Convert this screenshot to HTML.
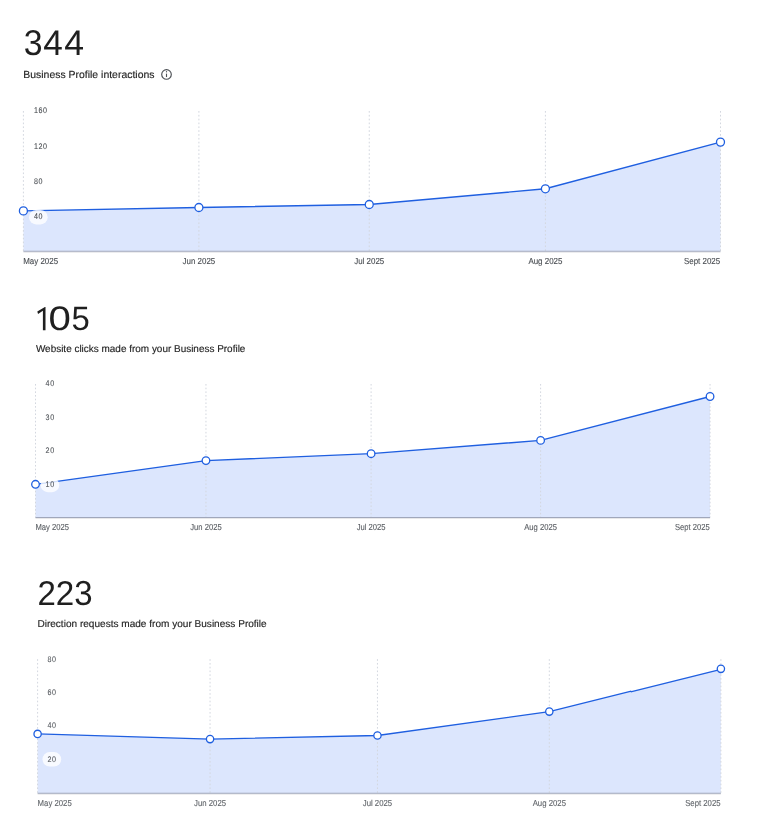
<!DOCTYPE html>
<html><head><meta charset="utf-8"><style>
html,body{margin:0;padding:0;background:#fff;}
body{width:769px;height:835px;overflow:hidden;position:relative;}
svg{position:absolute;left:0;top:0;will-change:transform;}
text{font-family:"Liberation Sans",sans-serif;text-rendering:geometricPrecision;}
</style></head><body>
<svg width="769" height="835" viewBox="0 0 769 835">

<text transform="translate(23.75,55.34) scale(0.9530,1.0117)" font-size="35.5" fill="#1f1f1f">3</text>
<text transform="translate(43.22,55.00) scale(0.9915,1.0000)" font-size="35.5" fill="#1f1f1f">4</text>
<text transform="translate(64.21,55.00) scale(1.0028,1.0000)" font-size="35.5" fill="#1f1f1f">4</text>
<text x="23.3" y="78.0" font-size="10.35" fill="#1f1f1f" stroke="#1f1f1f" stroke-width="0.15" textLength="131.2" lengthAdjust="spacingAndGlyphs">Business Profile interactions</text>
<circle cx="166.5" cy="74.45" r="4.8" fill="none" stroke="#4d5156" stroke-width="1.15"/>
<rect x="165.95" y="73.65" width="1.1" height="3.4" fill="#4d5156"/>
<rect x="165.95" y="71.15" width="1.1" height="1.2" fill="#4d5156"/>
<polygon points="23.4,251.3 23.4,210.9 198.9,207.5 369.25,204.5 545.4,188.8 720.5,142.1 720.5,251.3" fill="#dce6fd"/>
<line x1="23.4" y1="111" x2="23.4" y2="251.3" stroke="#d3d7df" stroke-width="1" stroke-dasharray="1.7,2.14"/>
<line x1="198.9" y1="111" x2="198.9" y2="251.3" stroke="#d3d7df" stroke-width="1" stroke-dasharray="1.7,2.14"/>
<line x1="369.25" y1="111" x2="369.25" y2="251.3" stroke="#d3d7df" stroke-width="1" stroke-dasharray="1.7,2.14"/>
<line x1="545.4" y1="111" x2="545.4" y2="251.3" stroke="#d3d7df" stroke-width="1" stroke-dasharray="1.7,2.14"/>
<line x1="720.5" y1="111" x2="720.5" y2="251.3" stroke="#d3d7df" stroke-width="1" stroke-dasharray="1.7,2.14"/>
<line x1="23.4" y1="252.3" x2="720.5" y2="252.3" stroke="#e8e8ea" stroke-width="1"/>
<line x1="23.4" y1="251.3" x2="720.5" y2="251.3" stroke="#a0a7bb" stroke-width="1.1"/>
<polyline points="23.4,210.9 198.9,207.5 369.25,204.5 545.4,188.8 720.5,142.1" fill="none" stroke="#1f5fe0" stroke-width="1.45"/>
<rect x="29.000000000000004" y="103.8" width="23.049999999999997" height="14.4" rx="7.2" fill="#fff" fill-opacity="0.8"/>
<text transform="translate(33.900000000000006,113.10000000000001) scale(0.87,1)" font-size="8.2" fill="#4a4e53" stroke="#4a4e53" stroke-width="0.1" textLength="14.929" lengthAdjust="spacing">160</text>
<rect x="29.000000000000004" y="139.3" width="23.049999999999997" height="14.4" rx="7.2" fill="#fff" fill-opacity="0.8"/>
<text transform="translate(33.900000000000006,148.6) scale(0.87,1)" font-size="8.2" fill="#4a4e53" stroke="#4a4e53" stroke-width="0.1" textLength="14.929" lengthAdjust="spacing">120</text>
<rect x="29.000000000000004" y="174.60000000000002" width="18.7" height="14.4" rx="7.2" fill="#fff" fill-opacity="0.8"/>
<text transform="translate(33.900000000000006,183.9) scale(0.87,1)" font-size="8.2" fill="#4a4e53" stroke="#4a4e53" stroke-width="0.1" textLength="9.947" lengthAdjust="spacing">80</text>
<rect x="29.000000000000004" y="210.00000000000003" width="18.7" height="14.4" rx="7.2" fill="#fff" fill-opacity="0.8"/>
<text transform="translate(33.900000000000006,219.3) scale(0.87,1)" font-size="8.2" fill="#4a4e53" stroke="#4a4e53" stroke-width="0.1" textLength="9.947" lengthAdjust="spacing">40</text>
<circle cx="23.4" cy="210.9" r="4.0" fill="#fff" stroke="#1f5fe0" stroke-width="1.3"/>
<circle cx="198.9" cy="207.5" r="4.0" fill="#fff" stroke="#1f5fe0" stroke-width="1.3"/>
<circle cx="369.25" cy="204.5" r="4.0" fill="#fff" stroke="#1f5fe0" stroke-width="1.3"/>
<circle cx="545.4" cy="188.8" r="4.0" fill="#fff" stroke="#1f5fe0" stroke-width="1.3"/>
<circle cx="720.5" cy="142.1" r="4.0" fill="#fff" stroke="#1f5fe0" stroke-width="1.3"/>
<text transform="translate(23.2,264.0) scale(0.915,1)" font-size="8.7" fill="#4a4e53" stroke="#4a4e53" stroke-width="0.12" text-anchor="start">May 2025</text>
<text transform="translate(198.9,264.0) scale(0.915,1)" font-size="8.7" fill="#4a4e53" stroke="#4a4e53" stroke-width="0.12" text-anchor="middle">Jun 2025</text>
<text transform="translate(369.25,264.0) scale(0.915,1)" font-size="8.7" fill="#4a4e53" stroke="#4a4e53" stroke-width="0.12" text-anchor="middle">Jul 2025</text>
<text transform="translate(545.4,264.0) scale(0.915,1)" font-size="8.7" fill="#4a4e53" stroke="#4a4e53" stroke-width="0.12" text-anchor="middle">Aug 2025</text>
<text transform="translate(720.2,264.0) scale(0.915,1)" font-size="8.7" fill="#4a4e53" stroke="#4a4e53" stroke-width="0.12" text-anchor="end">Sept 2025</text>
<path d="M42.90,330.20 L45.50,330.20 L45.50,307.10 L44.90,307.10 L37.30,311.60 L38.05,313.90 L42.90,310.70 Z" fill="#1f1f1f"/>
<text transform="translate(48.59,330.26) scale(1.1827,1.0025)" font-size="34" fill="#1f1f1f">0</text>
<text transform="translate(71.49,330.16) scale(0.9659,0.9958)" font-size="34" fill="#1f1f1f">5</text>
<text x="35.9" y="351.7" font-size="10" fill="#1f1f1f" stroke="#1f1f1f" stroke-width="0.15" textLength="209.5" lengthAdjust="spacingAndGlyphs">Website clicks made from your Business Profile</text>
<polygon points="35.5,517.5 35.5,484.3 205.96,460.6 371.1,453.7 540.6,440.4 710.05,396.5 710.05,517.5" fill="#dce6fd"/>
<line x1="35.5" y1="384" x2="35.5" y2="517.5" stroke="#d3d7df" stroke-width="1" stroke-dasharray="1.6,2.08"/>
<line x1="205.96" y1="384" x2="205.96" y2="517.5" stroke="#d3d7df" stroke-width="1" stroke-dasharray="1.6,2.08"/>
<line x1="371.1" y1="384" x2="371.1" y2="517.5" stroke="#d3d7df" stroke-width="1" stroke-dasharray="1.6,2.08"/>
<line x1="540.6" y1="384" x2="540.6" y2="517.5" stroke="#d3d7df" stroke-width="1" stroke-dasharray="1.6,2.08"/>
<line x1="710.05" y1="384" x2="710.05" y2="517.5" stroke="#d3d7df" stroke-width="1" stroke-dasharray="1.6,2.08"/>
<line x1="35.5" y1="518.5" x2="710.05" y2="518.5" stroke="#e8e8ea" stroke-width="1"/>
<line x1="35.5" y1="517.5" x2="710.05" y2="517.5" stroke="#a0a7bb" stroke-width="1.1"/>
<polyline points="35.5,484.3 205.96,460.6 371.1,453.7 540.6,440.4 710.05,396.5" fill="none" stroke="#1f5fe0" stroke-width="1.35"/>
<rect x="40.599999999999994" y="376.70000000000005" width="18.7" height="14.4" rx="7.2" fill="#fff" fill-opacity="0.8"/>
<text transform="translate(45.5,385.85) scale(0.87,1)" font-size="8.2" fill="#505459" stroke="#505459" stroke-width="0.1" textLength="9.947" lengthAdjust="spacing">40</text>
<rect x="40.599999999999994" y="410.40000000000003" width="18.7" height="14.4" rx="7.2" fill="#fff" fill-opacity="0.8"/>
<text transform="translate(45.5,419.55) scale(0.87,1)" font-size="8.2" fill="#505459" stroke="#505459" stroke-width="0.1" textLength="9.947" lengthAdjust="spacing">30</text>
<rect x="40.599999999999994" y="444.1" width="18.7" height="14.4" rx="7.2" fill="#fff" fill-opacity="0.8"/>
<text transform="translate(45.5,453.25) scale(0.87,1)" font-size="8.2" fill="#505459" stroke="#505459" stroke-width="0.1" textLength="9.947" lengthAdjust="spacing">20</text>
<rect x="40.599999999999994" y="477.8" width="18.7" height="14.4" rx="7.2" fill="#fff" fill-opacity="0.8"/>
<text transform="translate(45.5,486.95) scale(0.87,1)" font-size="8.2" fill="#505459" stroke="#505459" stroke-width="0.1" textLength="9.947" lengthAdjust="spacing">10</text>
<circle cx="35.5" cy="484.3" r="3.8" fill="#fff" stroke="#1f5fe0" stroke-width="1.3"/>
<circle cx="205.96" cy="460.6" r="3.8" fill="#fff" stroke="#1f5fe0" stroke-width="1.3"/>
<circle cx="371.1" cy="453.7" r="3.8" fill="#fff" stroke="#1f5fe0" stroke-width="1.3"/>
<circle cx="540.6" cy="440.4" r="3.8" fill="#fff" stroke="#1f5fe0" stroke-width="1.3"/>
<circle cx="710.05" cy="396.5" r="3.8" fill="#fff" stroke="#1f5fe0" stroke-width="1.3"/>
<text transform="translate(35.5,529.6) scale(0.88,1)" font-size="8.7" fill="#5b5f64" stroke="#5b5f64" stroke-width="0.12" text-anchor="start">May 2025</text>
<text transform="translate(205.96,529.6) scale(0.88,1)" font-size="8.7" fill="#5b5f64" stroke="#5b5f64" stroke-width="0.12" text-anchor="middle">Jun 2025</text>
<text transform="translate(371.1,529.6) scale(0.88,1)" font-size="8.7" fill="#5b5f64" stroke="#5b5f64" stroke-width="0.12" text-anchor="middle">Jul 2025</text>
<text transform="translate(540.6,529.6) scale(0.88,1)" font-size="8.7" fill="#5b5f64" stroke="#5b5f64" stroke-width="0.12" text-anchor="middle">Aug 2025</text>
<text transform="translate(709.75,529.6) scale(0.88,1)" font-size="8.7" fill="#5b5f64" stroke="#5b5f64" stroke-width="0.12" text-anchor="end">Sept 2025</text>
<text transform="translate(37.55,605.25) scale(0.9556,1.0000)" font-size="34.5" fill="#1f1f1f">2</text>
<text transform="translate(55.74,605.25) scale(0.9619,1.0000)" font-size="34.5" fill="#1f1f1f">2</text>
<text transform="translate(74.28,605.25) scale(0.9559,1.0043)" font-size="34.5" fill="#1f1f1f">3</text>
<text x="37.4" y="627.0" font-size="10" fill="#1f1f1f" stroke="#1f1f1f" stroke-width="0.15" textLength="229.3" lengthAdjust="spacingAndGlyphs">Direction requests made from your Business Profile</text>
<polygon points="37.6,793.2 37.6,733.9 210.05,739.1 377.45,735.5 549.3,711.6 631,691.3 631,691.9 720.9,669.3 720.9,793.2" fill="#dce6fd"/>
<line x1="37.6" y1="659.2" x2="37.6" y2="793.2" stroke="#d3d7df" stroke-width="1" stroke-dasharray="1.65,2.12"/>
<line x1="210.05" y1="659.2" x2="210.05" y2="793.2" stroke="#d3d7df" stroke-width="1" stroke-dasharray="1.65,2.12"/>
<line x1="377.45" y1="659.2" x2="377.45" y2="793.2" stroke="#d3d7df" stroke-width="1" stroke-dasharray="1.65,2.12"/>
<line x1="549.3" y1="659.2" x2="549.3" y2="793.2" stroke="#d3d7df" stroke-width="1" stroke-dasharray="1.65,2.12"/>
<line x1="720.9" y1="659.2" x2="720.9" y2="793.2" stroke="#d3d7df" stroke-width="1" stroke-dasharray="1.65,2.12"/>
<line x1="37.6" y1="794.2" x2="720.9" y2="794.2" stroke="#e8e8ea" stroke-width="1"/>
<line x1="37.6" y1="793.2" x2="720.9" y2="793.2" stroke="#a0a7bb" stroke-width="1.1"/>
<polyline points="37.6,733.9 210.05,739.1 377.45,735.5 549.3,711.6 631.3,691.2299999999999" fill="none" stroke="#1f5fe0" stroke-width="1.3"/>
<polyline points="630.7,691.97 720.9,669.3" fill="none" stroke="#1f5fe0" stroke-width="1.3"/>
<rect x="42.5" y="651.6999999999999" width="18.7" height="14.4" rx="7.2" fill="#fff" fill-opacity="0.8"/>
<text transform="translate(47.400000000000006,661.7) scale(0.87,1)" font-size="8.2" fill="#575b60" stroke="#575b60" stroke-width="0.1" textLength="9.947" lengthAdjust="spacing">80</text>
<rect x="42.5" y="685.0999999999999" width="18.7" height="14.4" rx="7.2" fill="#fff" fill-opacity="0.8"/>
<text transform="translate(47.400000000000006,695.1) scale(0.87,1)" font-size="8.2" fill="#575b60" stroke="#575b60" stroke-width="0.1" textLength="9.947" lengthAdjust="spacing">60</text>
<rect x="42.5" y="718.3999999999999" width="18.7" height="14.4" rx="7.2" fill="#fff" fill-opacity="0.8"/>
<text transform="translate(47.400000000000006,728.4) scale(0.87,1)" font-size="8.2" fill="#575b60" stroke="#575b60" stroke-width="0.1" textLength="9.947" lengthAdjust="spacing">40</text>
<rect x="42.5" y="752.0999999999999" width="18.7" height="14.4" rx="7.2" fill="#fff" fill-opacity="0.8"/>
<text transform="translate(47.400000000000006,762.1) scale(0.87,1)" font-size="8.2" fill="#575b60" stroke="#575b60" stroke-width="0.1" textLength="9.947" lengthAdjust="spacing">20</text>
<circle cx="37.6" cy="733.9" r="3.65" fill="#fff" stroke="#1f5fe0" stroke-width="1.3"/>
<circle cx="210.05" cy="739.1" r="3.65" fill="#fff" stroke="#1f5fe0" stroke-width="1.3"/>
<circle cx="377.45" cy="735.5" r="3.65" fill="#fff" stroke="#1f5fe0" stroke-width="1.3"/>
<circle cx="549.3" cy="711.6" r="3.65" fill="#fff" stroke="#1f5fe0" stroke-width="1.3"/>
<circle cx="720.9" cy="668.85" r="3.65" fill="#fff" stroke="#1f5fe0" stroke-width="1.3"/>
<text transform="translate(37.6,805.8) scale(0.895,1)" font-size="8.7" fill="#62666b" stroke="#62666b" stroke-width="0.12" text-anchor="start">May 2025</text>
<text transform="translate(210.05,805.8) scale(0.895,1)" font-size="8.7" fill="#62666b" stroke="#62666b" stroke-width="0.12" text-anchor="middle">Jun 2025</text>
<text transform="translate(377.45,805.8) scale(0.895,1)" font-size="8.7" fill="#62666b" stroke="#62666b" stroke-width="0.12" text-anchor="middle">Jul 2025</text>
<text transform="translate(549.3,805.8) scale(0.895,1)" font-size="8.7" fill="#62666b" stroke="#62666b" stroke-width="0.12" text-anchor="middle">Aug 2025</text>
<text transform="translate(720.6,805.8) scale(0.895,1)" font-size="8.7" fill="#62666b" stroke="#62666b" stroke-width="0.12" text-anchor="end">Sept 2025</text>
</svg></body></html>
